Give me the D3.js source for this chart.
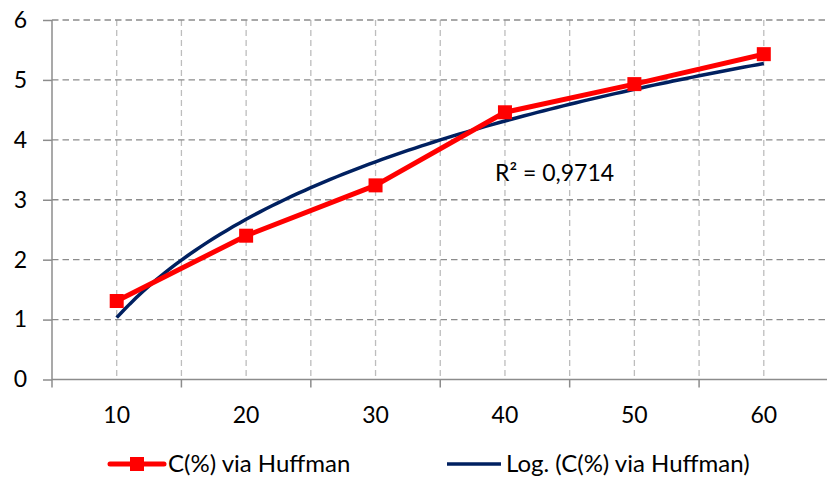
<!DOCTYPE html>
<meta charset="utf-8">
<script src="https://d3js.org/d3.v7.min.js"></script>
<style>
    body { margin: 0; background: #fff; }
    text { font-family: Lato, "Open Sans", sans-serif; fill: #000; }
</style>
<body>
<div id="chart"></div>
<script>
    // data
    var categories = [10, 20, 30, 40, 50, 60]
    var huffman = [1.31, 2.40, 3.24, 4.46, 4.93, 5.43]
    var yTicks = [0, 1, 2, 3, 4, 5, 6]
    var seriesName = "C(%) via Huffman"
    var trendName = "Log. (C(%) via Huffman)"
    var r2Label = "R² = 0,9714"

    var width = 827, height = 481
    var plotLeft = 52, plotRight = 828.5, plotTop = 20, plotBottom = 379.5
    var fontSize = 23

    var svg = d3.select("#chart").append("svg")
        .attr("width", width)
        .attr("height", height)

    // category axis like Excel: each value sits in the middle of its band
    var x = d3.scaleBand().domain(categories).range([plotLeft, plotRight])
    var y = d3.scaleLinear().domain([0, 6]).range([plotBottom, plotTop])
    var cx = function (c) { return x(c) + x.bandwidth() / 2 }

    // vertical gridlines at band edges and band centres
    var edges = categories.map(function (c) { return x(c) }).concat([plotRight])
    var vlines = edges.slice(1).concat(categories.map(cx))
    svg.append("g").selectAll("line").data(vlines).enter().append("line")
        .attr("x1", function (d) { return d }).attr("x2", function (d) { return d })
        .attr("y1", plotTop).attr("y2", plotBottom)
        .attr("stroke", "#bdbdbd").attr("stroke-width", 1.3)
        .attr("stroke-dasharray", "6,4")

    // horizontal gridlines
    svg.append("g").selectAll("line").data(yTicks.slice(1)).enter().append("line")
        .attr("x1", plotLeft).attr("x2", width)
        .attr("y1", function (d) { return y(d) }).attr("y2", function (d) { return y(d) })
        .attr("stroke", "#8c8c8c").attr("stroke-width", 1.3)
        .attr("stroke-dasharray", "6.5,4")

    // y axis
    var yAxis = svg.append("g")
        .attr("transform", "translate(" + plotLeft + ",0)")
        .call(d3.axisLeft(y).tickValues(yTicks).tickFormat(d3.format("d")).tickSize(9).tickPadding(16))
    yAxis.select(".domain").remove()
    yAxis.append("line").attr("x1", 0).attr("x2", 0).attr("y1", plotTop).attr("y2", plotBottom + 8)
        .attr("stroke", "#8c8c8c").attr("stroke-width", 1.5)
    yAxis.selectAll(".tick line").attr("stroke", "#8c8c8c").attr("stroke-width", 1.5)
    yAxis.selectAll(".tick text").attr("font-size", fontSize).attr("font-family", "Lato").attr("fill", "#000")

    // x axis
    var xAxis = svg.append("g").attr("transform", "translate(0," + plotBottom + ")")
    xAxis.append("line").attr("x1", plotLeft).attr("x2", width).attr("y1", 0).attr("y2", 0)
        .attr("stroke", "#8c8c8c").attr("stroke-width", 1.5)
    xAxis.selectAll("line.tk").data(edges.slice(1)).enter().append("line")
        .attr("class", "tk")
        .attr("x1", function (d) { return d }).attr("x2", function (d) { return d })
        .attr("y1", 0).attr("y2", 8)
        .attr("stroke", "#8c8c8c").attr("stroke-width", 1.5)
    xAxis.selectAll("text").data(categories).enter().append("text")
        .attr("x", cx).attr("y", 43)
        .attr("text-anchor", "middle")
        .attr("font-size", fontSize)
        .text(function (d) { return d })

    // logarithmic trendline, least squares on ln(category index) like Excel does
    var lx = categories.map(function (c, i) { return Math.log(i + 1) })
    var mx = d3.mean(lx), my = d3.mean(huffman)
    var a = d3.sum(lx, function (v, i) { return (v - mx) * (huffman[i] - my) }) /
            d3.sum(lx, function (v) { return (v - mx) * (v - mx) })
    var b = my - a * mx
    var idx = d3.scaleLinear().domain([1, categories.length])
        .range([cx(categories[0]), cx(categories[categories.length - 1])])
    var trend = d3.range(1, categories.length + 0.001, 0.05)

    svg.append("path")
        .datum(trend)
        .attr("fill", "none")
        .attr("stroke", "#002060")
        .attr("stroke-width", 3.5)
        .attr("d", d3.line()
            .x(function (t) { return idx(t) })
            .y(function (t) { return y(a * Math.log(t) + b) }))

    // data series
    svg.append("path")
        .datum(huffman)
        .attr("fill", "none")
        .attr("stroke", "#ff0000")
        .attr("stroke-width", 5)
        .attr("stroke-linejoin", "round")
        .attr("d", d3.line()
            .x(function (d, i) { return cx(categories[i]) })
            .y(function (d) { return y(d) }))

    svg.append("g").selectAll("rect").data(huffman).enter().append("rect")
        .attr("x", function (d, i) { return cx(categories[i]) - 7 })
        .attr("y", function (d) { return y(d) - 7 })
        .attr("width", 14).attr("height", 14)
        .attr("fill", "#ff0000")

    // R² label
    svg.append("text")
        .attr("x", 495).attr("y", 181)
        .attr("font-size", fontSize)
        .text(r2Label)

    // legend
    var lg = svg.append("g").attr("transform", "translate(0,464)")
    lg.append("line").attr("x1", 110).attr("x2", 164).attr("y1", 0).attr("y2", 0)
        .attr("stroke", "#ff0000").attr("stroke-width", 5).attr("stroke-linecap", "round")
    lg.append("rect").attr("x", 130).attr("y", -7).attr("width", 14).attr("height", 14)
        .attr("fill", "#ff0000")
    lg.append("text").attr("x", 168).attr("y", 8).attr("font-size", 24).text(seriesName)
    lg.append("line").attr("x1", 447).attr("x2", 501).attr("y1", 0).attr("y2", 0)
        .attr("stroke", "#002060").attr("stroke-width", 3.5)
    lg.append("text").attr("x", 506).attr("y", 8).attr("font-size", 24).text(trendName)
</script>
</body>
